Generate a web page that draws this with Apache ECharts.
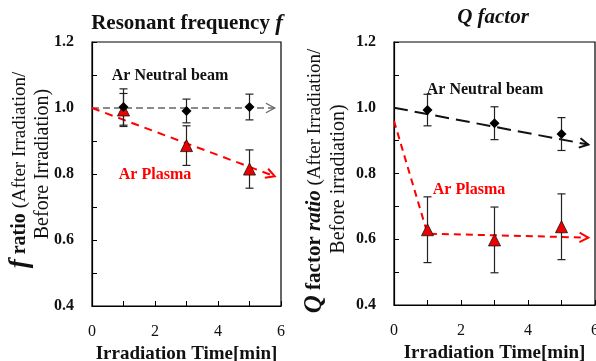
<!DOCTYPE html>
<html>
<head>
<meta charset="utf-8">
<script src="https://cdn.jsdelivr.net/npm/echarts@6/dist/echarts.min.js"></script>
<style>
  html, body { margin: 0; padding: 0; background: #fff; }
  #chart { width: 596px; height: 361px; }
</style>
</head>
<body>
<div id="chart"></div>
<script>
// irradiation times [min]
const times = [1, 3, 5]

// resonant frequency ratio
const fNeutral = [1.003, 0.991, 1.003]
const fNeutralErr = [0.055, 0.036, 0.039]
const fPlasma = [0.994, 0.886, 0.815]
const fPlasmaErr = [0.05, 0.06, 0.058]

// Q factor ratio
const qNeutral = [0.993, 0.953, 0.92]
const qNeutralErr = [0.048, 0.05, 0.05]
const qPlasma = [0.629, 0.598, 0.638]
const qPlasmaErr = [0.1, 0.1, 0.1]

// guide lines (drawn trends with arrow heads)
const fNeutralTrend = [[0, 1.0], [5.8, 1.0]]
const fPlasmaTrend = [[0, 1.0], [5.8, 0.793]]
const qNeutralTrend = [[0, 1.0], [5.8, 0.888]]
const qPlasmaTrend = [[0, 0.96], [1, 0.617], [5.8, 0.605]]

const yTicks = [0.4, 0.6, 0.8, 1.0, 1.2]
const xTicks = [0, 2, 4, 6]

const serif = 'Liberation Serif'
const chart = echarts.init(document.getElementById('chart'))

const pts = (ys, errs) => times.map((t, i) => errs ? [t, ys[i], errs[i]] : [t, ys[i]])

function errorBars (idx, ys, errs) {
  return {
    type: 'custom',
    xAxisIndex: idx,
    yAxisIndex: idx,
    z: 2,
    data: pts(ys, errs),
    renderItem (params, api) {
      const x = api.value(0)
      const y = api.value(1)
      const e = api.value(2)
      const top = api.coord([x, y + e])
      const bot = api.coord([x, y - e])
      const w = 4
      const st = { stroke: '#222', lineWidth: 1.2 }
      return {
        type: 'group',
        children: [
          { type: 'line', shape: { x1: top[0], y1: top[1], x2: bot[0], y2: bot[1] }, style: st },
          { type: 'line', shape: { x1: top[0] - w, y1: top[1], x2: top[0] + w, y2: top[1] }, style: st },
          { type: 'line', shape: { x1: bot[0] - w, y1: bot[1], x2: bot[0] + w, y2: bot[1] }, style: st }
        ]
      }
    }
  }
}

function trend (idx, line, color, width, dash) {
  return {
    type: 'custom',
    xAxisIndex: idx,
    yAxisIndex: idx,
    z: 1,
    data: [0],
    renderItem (params, api) {
      const p = line.map(v => api.coord(v))
      const a = p[p.length - 2]
      const b = p[p.length - 1]
      const ang = Math.atan2(b[1] - a[1], b[0] - a[0])
      const L = 10
      const arrow = [
        [b[0] - L * Math.cos(ang - 0.5), b[1] - L * Math.sin(ang - 0.5)],
        b,
        [b[0] - L * Math.cos(ang + 0.5), b[1] - L * Math.sin(ang + 0.5)]
      ]
      return {
        type: 'group',
        children: [
          { type: 'polyline', shape: { points: p }, style: { stroke: color, lineWidth: width, lineDash: dash, fill: null } },
          { type: 'polyline', shape: { points: arrow }, style: { stroke: color, lineWidth: width, fill: null } }
        ]
      }
    }
  }
}

function marks (idx, ys, symbol, size, color, z) {
  return {
    type: 'scatter',
    xAxisIndex: idx,
    yAxisIndex: idx,
    z,
    symbol,
    symbolSize: size,
    itemStyle: { color, borderColor: '#111', borderWidth: symbol === 'triangle' ? 0.8 : 0, opacity: 1 },
    data: pts(ys)
  }
}

const xAxisBase = idx => ({
  type: 'value',
  gridIndex: idx,
  min: 0,
  max: 6,
  interval: 1,
  axisLine: { lineStyle: { color: '#000', width: 1.2 } },
  axisTick: { inside: true, length: 5, lineStyle: { color: '#000' } },
  splitLine: { show: false },
  axisLabel: {
    color: '#111',
    fontFamily: serif,
    fontSize: 16,
    margin: 18,
    formatter: v => xTicks.includes(v) ? String(v) : ''
  },
  name: 'Irradiation Time[min]',
  nameLocation: 'middle',
  nameGap: 34,
  nameTextStyle: { fontFamily: serif, fontWeight: 'bold', fontSize: 19, color: '#111' }
})

const yAxisBase = idx => ({
  type: 'value',
  gridIndex: idx,
  min: 0.4,
  max: 1.2,
  interval: 0.1,
  axisLine: { lineStyle: { color: '#000', width: 1.2 } },
  axisTick: { inside: true, length: 5, lineStyle: { color: '#000' } },
  splitLine: { show: false },
  axisLabel: {
    color: '#111',
    fontFamily: serif,
    fontWeight: 'bold',
    fontSize: 16,
    margin: 18,
    formatter: v => yTicks.some(t => Math.abs(t - v) < 1e-6) ? v.toFixed(1) : ''
  }
})

const option = {
  animation: false,
  grid: [
    { left: 92, right: 315, top: 42, bottom: 55, show: true, borderColor: '#000', borderWidth: 1.2, outerBoundsMode: 'none', containLabel: false },
    { left: 394, right: 1, top: 42, bottom: 56, show: true, borderColor: '#000', borderWidth: 1.2, outerBoundsMode: 'none', containLabel: false }
  ],
  xAxis: [xAxisBase(0), xAxisBase(1)],
  yAxis: [yAxisBase(0), yAxisBase(1)],
  graphic: [
    {
      type: 'text', x: 187, y: 24,
      style: {
        text: '{b|Resonant frequency }{i|f}',
        align: 'center', verticalAlign: 'middle',
        rich: {
          b: { fontFamily: serif, fontWeight: 'bold', fontSize: 21, fill: '#111' },
          i: { fontFamily: serif, fontWeight: 'bold', fontStyle: 'italic', fontSize: 23, fill: '#111' }
        }
      }
    },
    {
      type: 'text', x: 493, y: 18,
      style: {
        text: 'Q factor', align: 'center', verticalAlign: 'middle',
        font: 'italic bold 21px "Liberation Serif"', fill: '#111'
      }
    },
    {
      type: 'text', x: 20, y: 170, rotation: Math.PI / 2,
      style: {
        text: '{i|f}{b| ratio }{n|(After Irradiation/}',
        align: 'center', verticalAlign: 'middle',
        rich: {
          i: { fontFamily: serif, fontWeight: 'bold', fontStyle: 'italic', fontSize: 27, fill: '#111' },
          b: { fontFamily: serif, fontWeight: 'bold', fontSize: 20, fill: '#111' },
          n: { fontFamily: serif, fontSize: 19, fill: '#111' }
        }
      }
    },
    {
      type: 'text', x: 43, y: 164, rotation: Math.PI / 2,
      style: {
        text: 'Before Irradiation)', align: 'center', verticalAlign: 'middle',
        font: '20px "Liberation Serif"', fill: '#111'
      }
    },
    {
      type: 'text', x: 315, y: 181, rotation: Math.PI / 2,
      style: {
        text: '{q|Q}{b| factor }{i|ratio}{n| (After Irradiation/}',
        align: 'center', verticalAlign: 'middle',
        rich: {
          q: { fontFamily: serif, fontWeight: 'bold', fontStyle: 'italic', fontSize: 25, fill: '#111' },
          b: { fontFamily: serif, fontWeight: 'bold', fontSize: 21, fill: '#111' },
          i: { fontFamily: serif, fontWeight: 'bold', fontStyle: 'italic', fontSize: 21, fill: '#111' },
          n: { fontFamily: serif, fontSize: 19, fill: '#111' }
        }
      }
    },
    {
      type: 'text', x: 339, y: 179, rotation: Math.PI / 2,
      style: {
        text: 'Before irradiation)', align: 'center', verticalAlign: 'middle',
        font: '20px "Liberation Serif"', fill: '#111'
      }
    },
    {
      type: 'text', x: 170, y: 76,
      style: { text: 'Ar Neutral beam', align: 'center', verticalAlign: 'middle', font: 'bold 16px "Liberation Serif"', fill: '#111' }
    },
    {
      type: 'text', x: 155, y: 175,
      style: { text: 'Ar Plasma', align: 'center', verticalAlign: 'middle', font: 'bold 16px "Liberation Serif"', fill: '#f00' }
    },
    {
      type: 'text', x: 485, y: 90,
      style: { text: 'Ar Neutral beam', align: 'center', verticalAlign: 'middle', font: 'bold 16px "Liberation Serif"', fill: '#111' }
    },
    {
      type: 'text', x: 469, y: 190,
      style: { text: 'Ar Plasma', align: 'center', verticalAlign: 'middle', font: 'bold 16px "Liberation Serif"', fill: '#f00' }
    }
  ],
  series: [
    trend(0, fNeutralTrend, '#666', 1.3, [7, 4]),
    trend(0, fPlasmaTrend, '#f00', 2, [8, 6]),
    trend(1, qNeutralTrend, '#111', 2, [14, 7]),
    trend(1, qPlasmaTrend, '#f00', 2, [7, 5]),
    errorBars(0, fNeutral, fNeutralErr),
    errorBars(0, fPlasma, fPlasmaErr),
    errorBars(1, qNeutral, qNeutralErr),
    errorBars(1, qPlasma, qPlasmaErr),
    marks(0, fNeutral, 'diamond', 10, '#000', 4),
    marks(0, fPlasma, 'triangle', 12, '#e00', 3),
    marks(1, qNeutral, 'diamond', 10, '#000', 4),
    marks(1, qPlasma, 'triangle', 12, '#e00', 3)
  ]
}

chart.setOption(option)

window.addEventListener('resize', () => {
  chart.resize()
})
</script>
</body>
</html>
